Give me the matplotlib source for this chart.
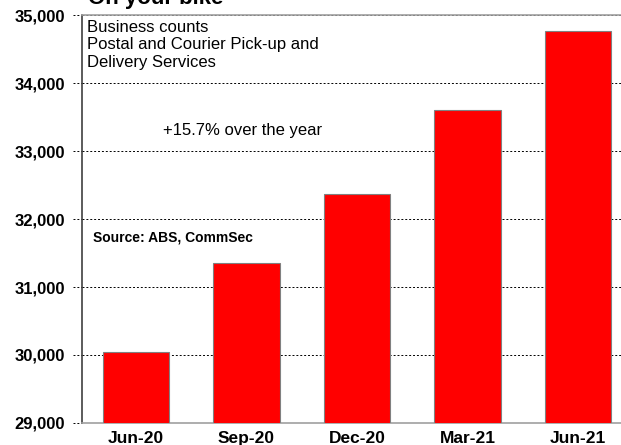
import matplotlib.pyplot as plt
from matplotlib.ticker import FuncFormatter

plt.rcParams['font.family'] = ['Liberation Sans', 'DejaVu Sans']

# quarterly business counts, postal and courier pick-up and delivery services
quarters = ['Jun-20', 'Sep-20', 'Dec-20', 'Mar-21', 'Jun-21']
counts = [30045, 31355, 32368, 33603, 34765]
yticks = [29000, 30000, 31000, 32000, 33000, 34000, 35000]

fig = plt.figure(figsize=(6.21, 4.45), dpi=100)
# axes runs past the right edge of the picture, as in the original crop
ax = fig.add_axes([82 / 621, 22 / 445, 550 / 621, 408 / 445])

x = range(len(quarters))
ax.bar(x, counts, width=0.6, color='#ff0000', edgecolor='#808080', linewidth=0.8, zorder=3)

ax.set_xlim(-0.49, len(quarters) - 0.51)
ax.set_ylim(29000, 35000)
ax.set_yticks(yticks)
ax.yaxis.set_major_formatter(FuncFormatter(lambda v, p: f'{int(v):,}'))
ax.set_xticks(list(x))
ax.set_xticklabels(quarters)

for lab in ax.get_yticklabels():
    lab.set_fontweight('bold')
    lab.set_fontsize(12)
for lab in ax.get_xticklabels():
    lab.set_fontweight('bold')
    lab.set_fontsize(12.5)

ax.tick_params(axis='x', length=0, pad=6)
ax.tick_params(axis='y', length=0, pad=12)
ax.grid(axis='y', linestyle=(0, (2, 2)), color='black', linewidth=0.7, zorder=0)

# dotted stubs to the left of the axis
for v in yticks:
    ax.plot([-0.49 - 9 / 110, -0.49], [v, v], linestyle=(0, (2, 2)), color='black',
            linewidth=0.7, clip_on=False, zorder=1)

ax.spines['left'].set_color('#404040')
ax.spines['left'].set_linewidth(1.2)
for s in ['top', 'bottom', 'right']:
    ax.spines[s].set_color('#a0a0a0')
    ax.spines[s].set_linewidth(1.2)

# title sits mostly above the picture, only its lower edge shows
fig.text(88 / 621, 1 - 4 / 445, 'On your bike', fontsize=16, fontweight='bold',
         va='baseline', ha='left')

fig.text(87 / 621, 1 - 20 / 445,
         'Business counts\nPostal and Courier Pick-up and\nDelivery Services',
         fontsize=12, va='top', ha='left', linespacing=1.2)
fig.text(163 / 621, 1 - 130 / 445, '+15.7% over the year', fontsize=12, va='center', ha='left')
fig.text(93 / 621, 1 - 238 / 445, 'Source: ABS, CommSec', fontsize=10, fontweight='bold',
         va='center', ha='left')

fig.savefig('out.png', dpi=100)
